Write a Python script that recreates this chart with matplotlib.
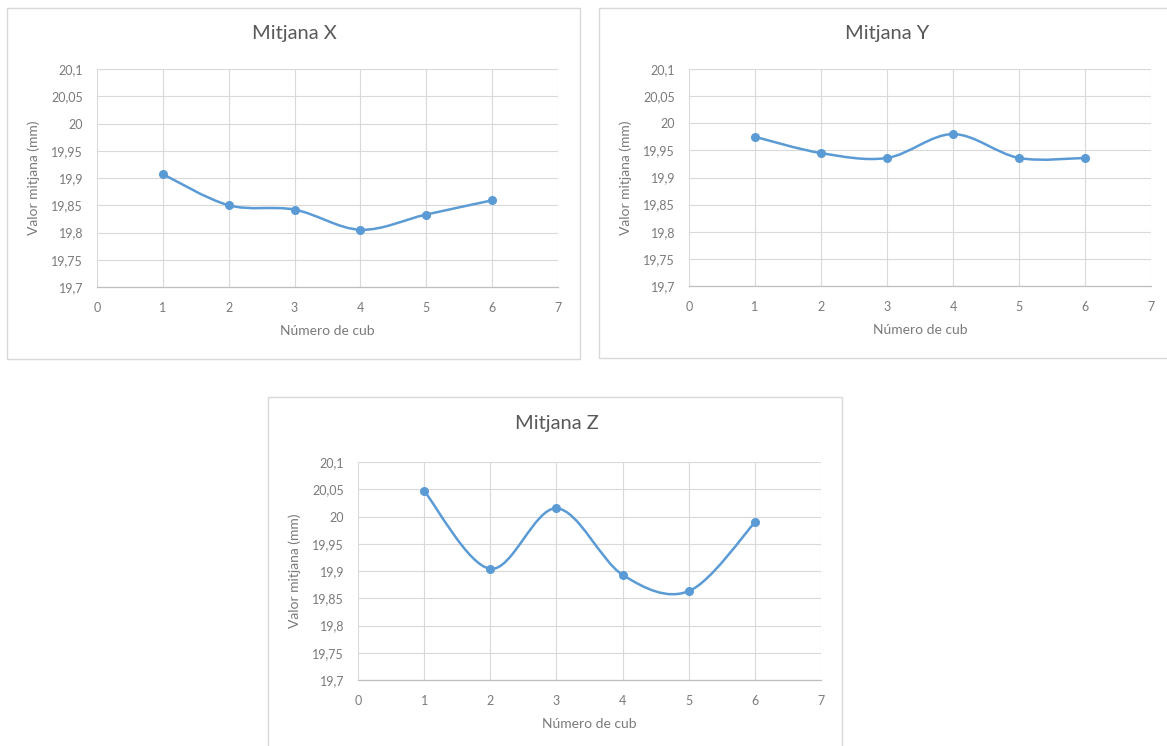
import matplotlib
matplotlib.use("Agg")
import matplotlib.pyplot as plt
from matplotlib.path import Path
from matplotlib.patches import PathPatch, Rectangle
import numpy as np

plt.rcParams['font.family'] = ['Lato', 'DejaVu Sans']

# Data: mean measured size per cube (mm)
cubes = [1, 2, 3, 4, 5, 6]
mean_x = [19.907, 19.850, 19.842, 19.805, 19.833, 19.859]
mean_y = [19.975, 19.945, 19.936, 19.980, 19.936, 19.936]
mean_z = [20.047, 19.904, 20.015, 19.893, 19.863, 19.989]

titles = ["Mitjana X", "Mitjana Y", "Mitjana Z"]
x_label = "Número de cub"
y_label = "Valor mitjana (mm)"

x_ticks = [0, 1, 2, 3, 4, 5, 6, 7]
y_ticks = [19.70, 19.75, 19.80, 19.85, 19.90, 19.95, 20.00, 20.05, 20.10]
y_tick_labels = ["19,7", "19,75", "19,8", "19,85", "19,9", "19,95", "20", "20,05", "20,1"]

LINE = "#5B9BD5"
GRID = "#D9D9D9"
TEXT = "#595959"
TICK = "#7A7A7A"

W, H = 1167, 746
fig = plt.figure(figsize=(W / 100, H / 100), dpi=100)
fig.patch.set_facecolor("white")


def fx(px):
    return px / W


def fy(py):
    return 1 - py / H


def smooth_path(xs, ys):
    """Cubic Bezier through the points, Catmull-Rom style control points."""
    pts = np.column_stack([xs, ys]).astype(float)
    n = len(pts)
    verts = [pts[0]]
    codes = [Path.MOVETO]
    for i in range(n - 1):
        p0 = pts[i - 1] if i > 0 else pts[i]
        p1 = pts[i]
        p2 = pts[i + 1]
        p3 = pts[i + 2] if i + 2 < n else pts[i + 1]
        c1 = p1 + (p2 - p0) / 6.0
        c2 = p2 - (p3 - p1) / 6.0
        verts += [c1, c2, p2]
        codes += [Path.CURVE4] * 3
    return Path(verts, codes)


# (box left, top, right, bottom), (plot left, top, right, bottom) in pixels
panels = [
    ((7, 8, 580, 359), (97, 69, 558, 287), mean_x),
    ((599, 8, 1180, 358), (689, 69, 1151, 286), mean_y),
    ((268, 397, 842, 760), (358, 462, 821, 680), mean_z),
]

for (box, plot, values), title in zip(panels, titles):
    bl, bt, br, bb = box
    fig.patches.append(Rectangle((fx(bl), fy(bb)), fx(br - bl), (bb - bt) / H,
                                 transform=fig.transFigure, fill=False,
                                 edgecolor=GRID, linewidth=1.0, zorder=0))
    pl, pt, pr, pb = plot
    ax = fig.add_axes([fx(pl), fy(pb), fx(pr - pl), (pb - pt) / H])
    ax.set_xlim(0, 7)
    ax.set_ylim(19.7, 20.1)
    ax.set_xticks(x_ticks)
    ax.set_xticklabels([str(t) for t in x_ticks])
    ax.set_yticks(y_ticks)
    ax.set_yticklabels(y_tick_labels)
    ax.tick_params(axis="y", length=0, labelsize=9, labelcolor=TICK, pad=10)
    ax.tick_params(axis="x", length=0, labelsize=9, labelcolor=TICK, pad=11)
    ax.grid(True, color=GRID, linewidth=0.8)
    ax.set_axisbelow(True)
    for s in ["top", "right", "left"]:
        ax.spines[s].set_visible(False)
    ax.spines["bottom"].set_color("#BFBFBF")
    ax.spines["bottom"].set_linewidth(0.9)

    ax.add_patch(PathPatch(smooth_path(cubes, values), facecolor="none",
                           edgecolor=LINE, linewidth=1.8, zorder=3))
    ax.plot(cubes, values, linestyle="none", marker="o", markersize=5.5,
            color=LINE, zorder=4)

    ax.set_xlabel(x_label, fontsize=10, color=TICK, labelpad=8)
    ax.set_ylabel(y_label, fontsize=10, color=TICK, labelpad=8)
    fig.text(fx((pl + pr) / 2 - 33), fy(bt + 26), title, ha="center",
             va="center", fontsize=14.5, color=TEXT)

fig.savefig("out.png", dpi=100, facecolor="white")
